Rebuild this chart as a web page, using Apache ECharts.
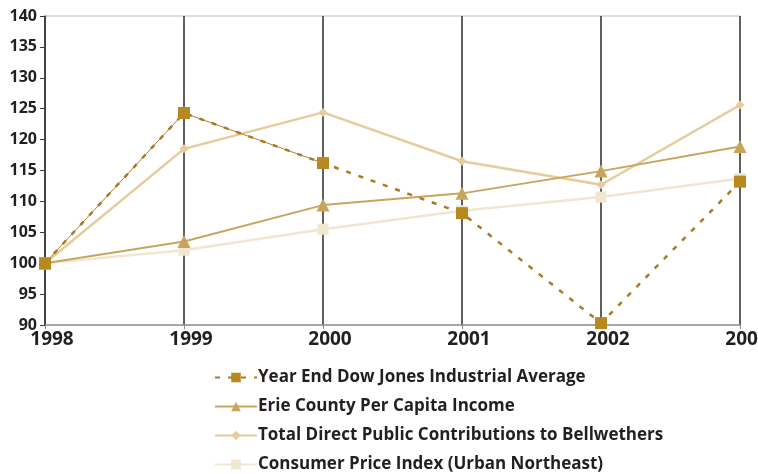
<!DOCTYPE html>
<html><head><meta charset="utf-8">
<script src="https://cdn.jsdelivr.net/npm/echarts@6/dist/echarts.min.js"></script>
<style>html,body{margin:0;padding:0;background:#fff}#c{width:758px;height:474px}</style>
</head><body><div id="c"></div>
<script>
const years = ['1998','1999','2000','2001','2002','2003'];
const dow = [100, 124.3, 116.2, 108.1, 90.3, 113.2];
const erie = [100, 103.5, 109.4, 111.3, 114.9, 118.9];
const bell = [100, 118.5, 124.4, 116.5, 112.7, 125.6];
const cpi = [100, 102.1, 105.5, 108.5, 110.7, 113.7];
const yTicks = [90, 95, 100, 105, 110, 115, 120, 125, 130, 135, 140];
const dowSolid = dow.map((v, i) => i <= 2 ? v : null);

const chart = echarts.init(document.getElementById('c'));
const font = "'Open Sans', sans-serif";
const splitColors = yTicks.map((t, i) => i === yTicks.length - 1 ? '#dcdbe3' : 'rgba(0,0,0,0)');
chart.setOption({
  animation: false,
  grid: {left: 45, right: 18, top: 16, bottom: 149, containLabel: false, outerBoundsMode: 'none'},
  xAxis: {
    type: 'category', data: years, boundaryGap: false,
    axisLine: {lineStyle: {color: '#8a8a8a', width: 1.5}},
    axisTick: {show: true, length: 4, lineStyle: {color: '#8a8a8a'}},
    axisLabel: {color: '#231f20', fontFamily: font, fontWeight: 'bold', fontSize: 19, margin: 5,
                padding: [0, 0, 0, 14], hideOverlap: false},
    splitLine: {show: true, lineStyle: {color: '#2b2b2b', width: 1.5}}
  },
  yAxis: {
    type: 'value', min: yTicks[0], max: yTicks[yTicks.length - 1], interval: 5,
    axisLine: {show: true, lineStyle: {color: '#3a3a3a', width: 1.5}},
    axisTick: {show: true, length: 5, lineStyle: {color: '#3a3a3a'}},
    axisLabel: {color: '#231f20', fontFamily: font, fontWeight: 'bold', fontSize: 16, margin: 8},
    splitLine: {show: true, lineStyle: {color: splitColors, width: 2}}
  },
  legend: {
    orient: 'vertical', left: 214, top: 369, padding: 0, itemGap: 12, itemWidth: 42, itemHeight: 12,
    data: ['Year End Dow Jones Industrial Average', 'Erie County Per Capita Income',
           'Total Direct Public Contributions to Bellwethers', 'Consumer Price Index (Urban Northeast)'],
    textStyle: {color: '#231f20', fontFamily: font, fontWeight: 'bold', fontSize: 17, padding: [0, 0, 0, -4]}
  },
  series: [
    {name: 'Consumer Price Index (Urban Northeast)', type: 'line', data: cpi,
     symbol: 'rect', symbolSize: 11, itemStyle: {color: '#f1e6d0'},
     lineStyle: {color: '#f1e6d0', width: 2.5}},
    {name: 'Total Direct Public Contributions to Bellwethers', type: 'line', data: bell,
     symbol: 'diamond', symbolSize: 9, itemStyle: {color: '#e6cb9c'},
     lineStyle: {color: '#e6cb9c', width: 2.5}},
    {name: 'Erie County Per Capita Income', type: 'line', data: erie,
     symbol: 'triangle', symbolSize: 13, itemStyle: {color: '#c9a55c'},
     lineStyle: {color: '#c9a55c', width: 2}},
    {name: 'dowSolid', type: 'line', data: dowSolid, symbol: 'none', silent: true,
     lineStyle: {color: '#b0822a', width: 1}},
    {name: 'Year End Dow Jones Industrial Average', type: 'line', data: dow,
     symbol: 'rect', symbolSize: 12, itemStyle: {color: '#b8891f'},
     lineStyle: {color: '#a97a25', width: 2.5, type: [5, 8]}}
  ]
});
</script></body></html>
